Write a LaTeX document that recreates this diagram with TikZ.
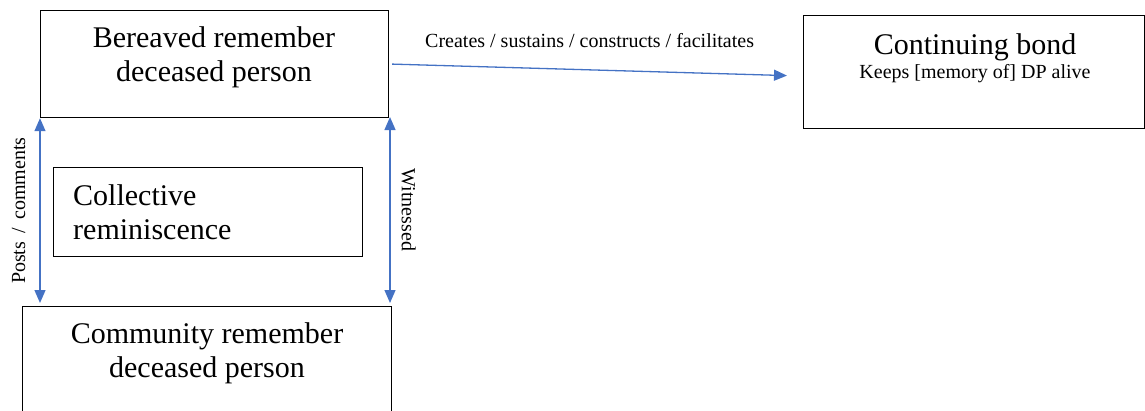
\documentclass[tikz,border=0pt]{standalone}
\usepackage{fontspec}
\setmainfont{Liberation Serif}
\usetikzlibrary{arrows.meta, positioning}

\definecolor{linkblue}{HTML}{4472C4}

\begin{document}
\begin{tikzpicture}[x=1pt, y=-1pt,
    box/.style={draw, line width=1.2pt, rectangle, anchor=north west, inner sep=0pt},
    bigtext/.style={font=\fontsize{30}{34}\selectfont, align=center, inner sep=0pt},
    smalltext/.style={font=\fontsize{20}{24}\selectfont, inner sep=0pt},
    link/.style={draw=linkblue, line width=1.3pt, -{Triangle[length=13pt, width=11pt]}},
    both/.style={link, {Triangle[length=13pt, width=11pt]}-{Triangle[length=13pt, width=11pt]}}]
        \useasboundingbox (0,0) rectangle (1145,410);

        % boxes
        \node[box, minimum width=348pt, minimum height=107pt] (bereaved) at (40,10) {};
        \node[box, minimum width=341pt, minimum height=113pt] (bond) at (803,15) {};
        \node[box, minimum width=309pt, minimum height=89pt] (collective) at (53,167) {};
        \node[box, minimum width=369pt, minimum height=112pt] (community) at (22,306) {};

        % texts
        \node[bigtext, anchor=north] (bereavedtext) at (214,26.5) {Bereaved remember\\deceased person};
        \node[bigtext, anchor=north] (bondtext) at (975,33.5) {Continuing bond};
        \node[smalltext, anchor=north] (bondsub) [below=3.5pt of bondtext] {Keeps [memory of] DP alive};
        \node[bigtext, align=left, anchor=north west] (collectivetext) at (73,184.5) {Collective\\reminiscence};
        \node[bigtext, anchor=north] (communitytext) at (207,322.5) {Community remember\\deceased person};

        % links
        \coordinate (leftbot) at (40,303);
        \coordinate (rightbot) at (390,303);
        \coordinate (righttop) at (390,117);
        \path[both] (bereaved.south west) -- node[smalltext, rotate=90, anchor=south, yshift=14pt] (posts) {Posts \,/\, comments} (leftbot);
        \path[both] (righttop) -- node[smalltext, rotate=-90, anchor=south, yshift=11pt] (witnessed) {Witnessed} (rightbot);
        \path[link] ([xshift=3pt]bereaved.east) -- node[smalltext, above=22pt] (creates) {Creates / sustains / constructs / facilitates} ([xshift=-16pt, yshift=-3.5pt]bond.west);
\end{tikzpicture}
\end{document}
